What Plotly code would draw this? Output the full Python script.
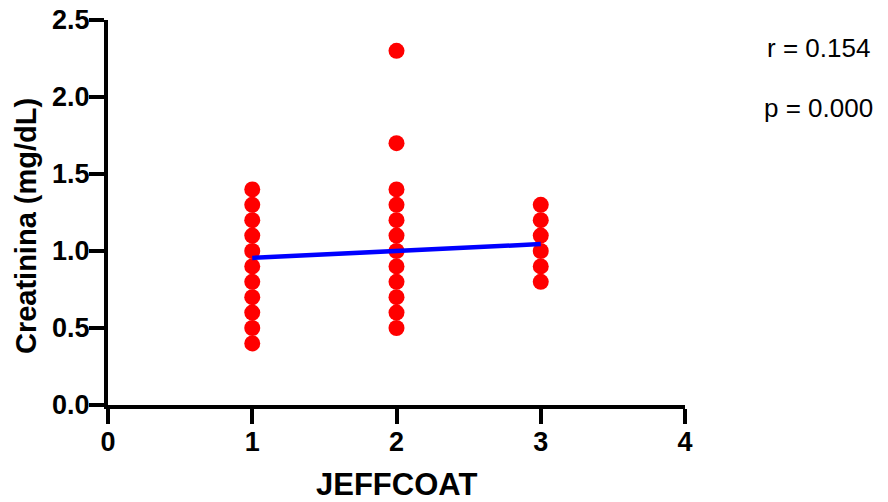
import plotly.graph_objects as go

# Data
jeff_1 = [0.4, 0.5, 0.6, 0.7, 0.8, 0.9, 1.0, 1.1, 1.2, 1.3, 1.4]
jeff_2 = [0.5, 0.6, 0.7, 0.8, 0.9, 1.0, 1.1, 1.2, 1.3, 1.4, 1.7, 2.3]
jeff_3 = [0.8, 0.9, 1.0, 1.1, 1.2, 1.3]
fit_x = [1, 3]
fit_y = [0.955, 1.045]
x_ticks = [0, 1, 2, 3, 4]
y_ticks = [0.0, 0.5, 1.0, 1.5, 2.0, 2.5]
stats_text = ["r = 0.154", "p = 0.000"]

xs = [1] * len(jeff_1) + [2] * len(jeff_2) + [3] * len(jeff_3)
ys = jeff_1 + jeff_2 + jeff_3

fig = go.Figure()
fig.add_trace(go.Scatter(x=xs, y=ys, mode="markers",
                         marker=dict(color="#ff0000", size=16, line=dict(width=0)),
                         showlegend=False, cliponaxis=False))
fig.add_trace(go.Scatter(x=fit_x, y=fit_y, mode="lines",
                         line=dict(color="#0000ff", width=4.5),
                         showlegend=False))

font_b = "Liberation Sans, Arial, sans-serif"
fig.update_layout(
    width=888, height=502,
    margin=dict(l=108, r=203, t=20, b=97),
    paper_bgcolor="white", plot_bgcolor="white",
    font=dict(family=font_b, color="black"),
    xaxis=dict(range=[0, 4], tickvals=x_ticks, ticktext=[str(v) for v in x_ticks],
               automargin=False,
               showgrid=False, zeroline=False, showline=True, linewidth=4, linecolor="black",
               ticks="outside", ticklen=15, tickwidth=4, tickcolor="black",
               ticklabelstandoff=-5,
               tickfont=dict(size=27, family=font_b, weight="bold")),
    yaxis=dict(range=[0, 2.5], tickvals=y_ticks, ticktext=[f"{v:.1f}" for v in y_ticks],
               automargin=False,
               showgrid=False, zeroline=False, showline=True, linewidth=4, linecolor="black",
               ticks="outside", ticklen=15, tickwidth=4, tickcolor="black",
               ticklabelstandoff=-6,
               tickfont=dict(size=27, family=font_b, weight="bold")),
)
# axis titles
fig.add_annotation(text="<b>JEFFCOAT</b>", xref="paper", yref="paper", x=0.5, y=-0.207,
                   xanchor="center", yanchor="middle", showarrow=False,
                   font=dict(size=31, family=font_b, color="black"))
fig.add_annotation(text="<b>Creatinina (mg/dL)</b>", xref="paper", yref="paper", x=-0.142, y=0.465,
                   xanchor="center", yanchor="middle", showarrow=False, textangle=-90,
                   font=dict(size=29, family=font_b, color="black"))
for i, t in enumerate(stats_text):
    fig.add_annotation(text=t, xref="paper", yref="paper", x=1.232, y=0.928 - i * 0.156,
                       xanchor="center", yanchor="middle", showarrow=False,
                       font=dict(size=26, family=font_b, color="black"))

fig.write_html("out.html")
